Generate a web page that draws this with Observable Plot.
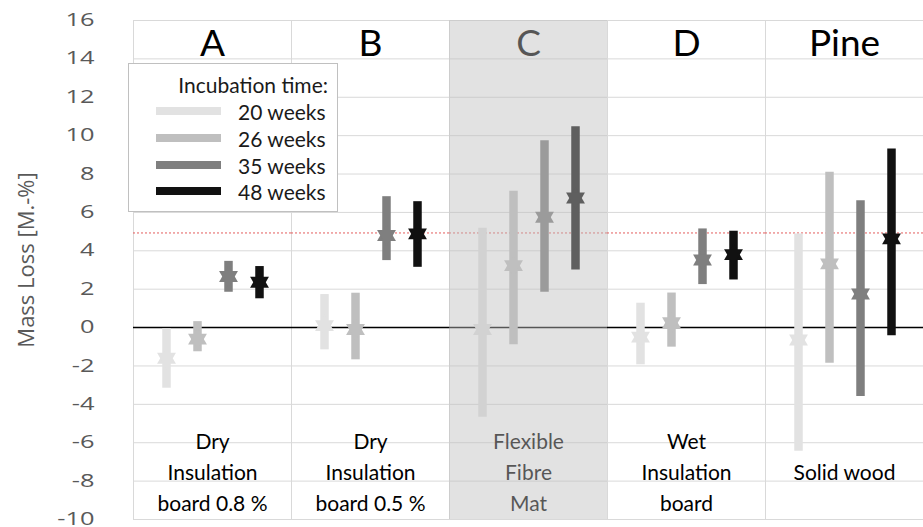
<!DOCTYPE html>
<html>
<head>
<meta charset="utf-8">
<script src="https://cdn.jsdelivr.net/npm/d3@7"></script>
<script src="https://cdn.jsdelivr.net/npm/@observablehq/plot@0.6"></script>
<style>
  body { margin: 0; background: #fff; }
  #wrap { position: relative; width: 923px; height: 527px; overflow: hidden; }
  .mlchart g[aria-label="y-axis tick label"],
  .mlchart g[aria-label="y-axis tick label"] text { font-family: 'Open Sans', sans-serif; font-size: 17.5px; fill: #595959; }
  #legend { position: absolute; left: 128px; top: 63px; width: 210px; height: 149px; background: #fff;
            border: 1px solid #c0c0c0; box-sizing: border-box; font-family: Lato, sans-serif; font-size: 21px; color: #1a1a1a; }
  #legend .title { position: absolute; right: 9px; top: 8px; line-height: 25px; white-space: nowrap; }
  #legend .item { position: absolute; left: 27px; height: 25px; line-height: 25px; display: flex; align-items: center; white-space: nowrap; }
  #legend .sw { width: 65px; height: 8px; margin-right: 17px; position: relative; top: -1px; }
</style>
</head>
<body>
<div id="wrap"></div>
<script>
// ---- data ----
const panels = ["A", "B", "C", "D", "Pine"];
const panelLabels = ["Dry\nInsulation\nboard 0.8 %", "Dry\nInsulation\nboard 0.5 %", "Flexible\nFibre\nMat", "Wet\nInsulation\nboard", "\nSolid wood\n"];
const weeks = ["20 weeks", "26 weeks", "35 weeks", "48 weeks"];
const weekColors = ["#e2e2e2", "#bfbfbf", "#7f7f7f", "#111111"];
const shadedPanels = ["C"];
const yTicks = [-10, -8, -6, -4, -2, 0, 2, 4, 6, 8, 10, 12, 14, 16];
const yLabel = "Mass Loss [M.-%]";
const refLine = 4.93;

// mean, lower end, upper end for each incubation time (20, 26, 35, 48 weeks)
const meanA = [-1.6, -0.6, 2.66, 2.36];
const lowA  = [-3.16, -1.26, 1.84, 1.5];
const highA = [-0.06, 0.31, 3.45, 3.18];

const meanB = [0.1, -0.1, 4.8, 4.88];
const lowB  = [-1.16, -1.68, 3.49, 3.14];
const highB = [1.72, 1.79, 6.82, 6.56];

const meanC = [-0.1, 3.23, 5.75, 6.75];
const lowC  = [-4.67, -0.89, 1.84, 3.0];
const highC = [5.17, 7.1, 9.74, 10.47];

const meanD = [-0.5, 0.25, 3.52, 3.8];
const lowD  = [-1.94, -1.02, 2.24, 2.48];
const highD = [1.27, 1.8, 5.14, 5.02];

const meanPine = [-0.65, 3.32, 1.75, 4.62];
const lowPine  = [-6.44, -1.86, -3.59, -0.42];
const highPine = [4.88, 8.09, 6.61, 9.3];

// ---- build table ----
const series = {A: [meanA, lowA, highA], B: [meanB, lowB, highB], C: [meanC, lowC, highC], D: [meanD, lowD, highD], Pine: [meanPine, lowPine, highPine]};
const rows = [];
for (const p of panels) {
  const [m, lo, hi] = series[p];
  weeks.forEach((w, i) => rows.push({panel: p, week: w, mean: m[i], lo: lo[i], hi: hi[i]}));
}
const panelRows = panels.map((p, i) => ({panel: p, label: panelLabels[i]}));
const shadedRows = shadedPanels.map(p => ({panel: p}));
const labelRows = [{panel: panels[0], label: yLabel}];

const chart = Plot.plot({
  className: "mlchart",
  width: 923,
  height: 527,
  marginLeft: 132,
  marginRight: 0,
  marginTop: 20,
  marginBottom: 8,
  style: {fontFamily: "Lato, sans-serif", background: "white", overflow: "hidden"},
  fx: {domain: panels, padding: 0, axis: null},
  x: {type: "point", domain: weeks, padding: 1, axis: null},
  y: {domain: [-10, 16]},
  color: {domain: weeks, range: weekColors},
  marks: [
    Plot.gridY(yTicks, {stroke: "#d9d9d9", strokeOpacity: 1}),
    Plot.frame({stroke: "#d9d9d9"}),
    Plot.axisY(yTicks, {tickSize: 0, tickPadding: 39, tickFormat: d => String(d), label: null}),
    Plot.text(labelRows, {fx: "panel", text: "label", frameAnchor: "left", textAnchor: "middle", rotate: -90, dx: -107, dy: -10,
      fontFamily: "'Open Sans', sans-serif", fontSize: 22, fill: "#595959"}),
    Plot.ruleY([0], {stroke: "#000", strokeWidth: 1.5}),
    Plot.ruleY([refLine], {stroke: "#e35d5d", strokeDasharray: "2,2", strokeWidth: 1}),
    Plot.ruleX(rows, {fx: "panel", x: "week", y1: "lo", y2: "hi", stroke: "week", strokeWidth: 8.5}),
    Plot.dot(rows, {fx: "panel", x: "week", y: "mean", symbol: "triangle", r: 7, fill: "week"}),
    Plot.dot(rows, {fx: "panel", x: "week", y: "mean", symbol: "triangle", r: 7, fill: "week", rotate: 180}),
    Plot.text(panelRows, {fx: "panel", text: "panel", frameAnchor: "top", lineAnchor: "top", dy: 9, fontSize: 37, fill: "#000"}),
    Plot.text(panelRows, {fx: "panel", text: "label", frameAnchor: "bottom", lineAnchor: "bottom", lineHeight: 1.476, dy: -9, fontSize: 21, fill: "#000"}),
    Plot.rect(shadedRows, {fx: "panel", y1: -10, y2: 16, fill: "#bebebe", fillOpacity: 0.45})
  ]
});

const wrap = document.getElementById("wrap");
wrap.appendChild(chart);

// the original's tick digits are drawn wide: stretch each label horizontally
chart.querySelectorAll('g[aria-label="y-axis tick label"] text').forEach(t => {
  const w = t.getComputedTextLength();
  if (w > 0) {
    t.setAttribute("textLength", (w * 1.45).toFixed(1));
    t.setAttribute("lengthAdjust", "spacingAndGlyphs");
  }
});

// legend (drawn inside the plot area, like the original)
const legend = document.createElement("div");
legend.id = "legend";
const title = document.createElement("div");
title.className = "title";
title.textContent = "Incubation time:";
legend.appendChild(title);
const itemTops = [35, 62, 89, 115];
weeks.forEach((w, i) => {
  const it = document.createElement("div");
  it.className = "item";
  it.style.top = itemTops[i] + "px";
  const sw = document.createElement("span");
  sw.className = "sw";
  sw.style.background = weekColors[i];
  const tx = document.createElement("span");
  tx.textContent = w;
  it.appendChild(sw);
  it.appendChild(tx);
  legend.appendChild(it);
});
wrap.appendChild(legend);
</script>
</body>
</html>
